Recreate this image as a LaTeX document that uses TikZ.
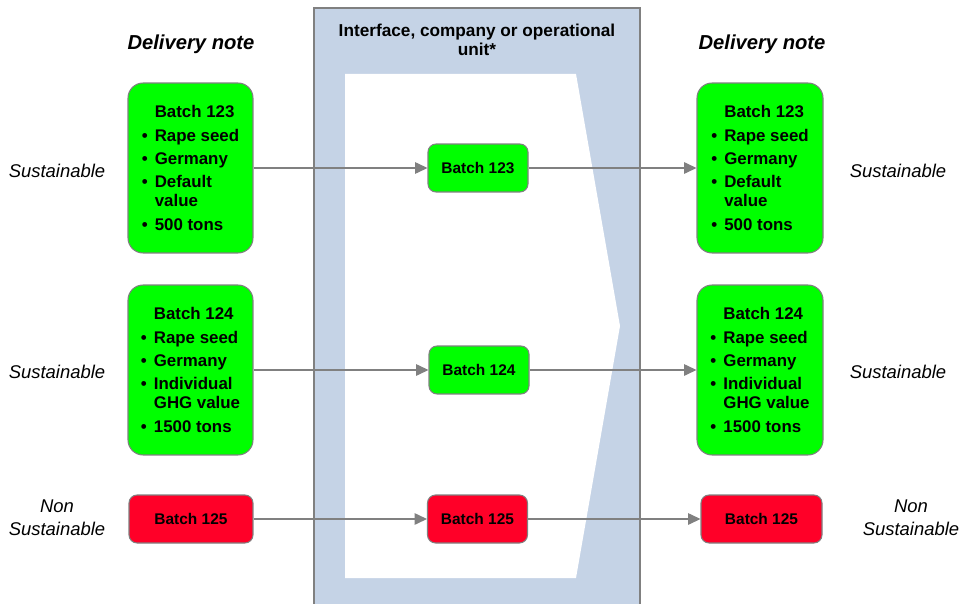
\documentclass[tikz,border=0pt]{standalone}
\usepackage{fontspec}
\setmainfont{Liberation Sans}
\usepackage{xcolor}
\usepackage{tikz}
\usetikzlibrary{arrows.meta}

\definecolor{batchgreen}{RGB}{0,255,0}
\definecolor{batchred}{RGB}{255,0,40}
\definecolor{panelblue}{RGB}{197,211,230}
\definecolor{linegray}{RGB}{128,128,128}

\newcommand{\itm}{\makebox[0.26cm][l]{\textbullet}}
\newcommand{\ind}{\hspace*{0.26cm}}

\begin{document}
\begin{tikzpicture}[x=0.02cm, y=-0.02cm,
  bigbox/.style={draw=linegray, line width=0.6pt, fill=batchgreen, rounded corners=0.3cm,
    minimum width=2.5cm, minimum height=3.4cm, align=left, inner sep=0pt,
    font=\fontsize{9.6}{11}\selectfont\bfseries},
  smallbox/.style={draw=linegray, line width=0.6pt, rounded corners=0.16cm,
    minimum width=2cm, minimum height=0.96cm, inner sep=0pt,
    font=\fontsize{8.8}{10}\selectfont\bfseries},
  redbox/.style={smallbox, fill=batchred, minimum width=2.48cm},
  midbox/.style={smallbox, fill=batchgreen},
  side/.style={font=\fontsize{10.5}{13}\selectfont\itshape, align=center},
  header/.style={font=\fontsize{11.5}{14}\selectfont\bfseries\itshape},
  conn/.style={draw=linegray, line width=0.7pt, -{Triangle[length=7pt,width=6.5pt]}}]
\useasboundingbox (0,0) rectangle (962,604);

% panel with the white arrow
\fill[panelblue] (314,8) rectangle (640,604);
\draw[linegray, line width=0.8pt] (314,604) -- (314,8) -- (640,8) -- (640,604);
\fill[white] (345,74) -- (576,74) -- (620,326) -- (576,578) -- (345,578) -- cycle;
\node[font=\fontsize{9.8}{11.2}\selectfont\bfseries, align=flush center, text width=6.1cm] (title) at (477,40)
  {Interface, company or operational unit*};

% headers
\node[header] (hl) at (191,44) {Delivery note};
\node[header] (hr) at (762,44) {Delivery note};

% left delivery note
\node[bigbox] (l1) at (190.5,168) {\ind Batch 123\\[2.2pt]\itm Rape seed\\[2.2pt]\itm Germany\\[2.2pt]\itm Default\\\ind value\\[2.2pt]\itm 500 tons};
\node[bigbox] (l2) at (190.5,370) {\ind Batch 124\\[2.2pt]\itm Rape seed\\[2.2pt]\itm Germany\\[2.2pt]\itm Individual\\\ind GHG value\\[2.2pt]\itm 1500 tons};
\node[redbox] (l3) at (191,519) {Batch 125};

% interface
\node[midbox] (m1) at (478,168) {Batch 123};
\node[midbox] (m2) at (479,370) {Batch 124};
\node[redbox, minimum width=2cm] (m3) at (477.5,519) {Batch 125};

% right delivery note
\node[bigbox, minimum width=2.52cm] (r1) at (760,168) {\ind Batch 123\\[2.2pt]\itm Rape seed\\[2.2pt]\itm Germany\\[2.2pt]\itm Default\\\ind value\\[2.2pt]\itm 500 tons};
\node[bigbox, minimum width=2.52cm] (r2) at (760,370) {\ind Batch 124\\[2.2pt]\itm Rape seed\\[2.2pt]\itm Germany\\[2.2pt]\itm Individual\\\ind GHG value\\[2.2pt]\itm 1500 tons};
\node[redbox, minimum width=2.42cm] (r3) at (761.5,519) {Batch 125};

% side labels
\node[side] (sl1) at (57,171) {Sustainable};
\node[side] (sl2) at (57,372) {Sustainable};
\node[side] (sl3) at (57,518) {Non\\Sustainable};
\node[side] (sr1) at (898,171) {Sustainable};
\node[side] (sr2) at (898,372) {Sustainable};
\node[side] (sr3) at (911,518) {Non\\Sustainable};

\draw[conn] (l1) -- (m1);
\draw[conn] (l2) -- (m2);
\draw[conn] (l3) -- (m3);
\draw[conn] (m1) -- (r1);
\draw[conn] (m2) -- (r2);
\draw[conn] (m3) -- (r3);
\end{tikzpicture}
\end{document}
